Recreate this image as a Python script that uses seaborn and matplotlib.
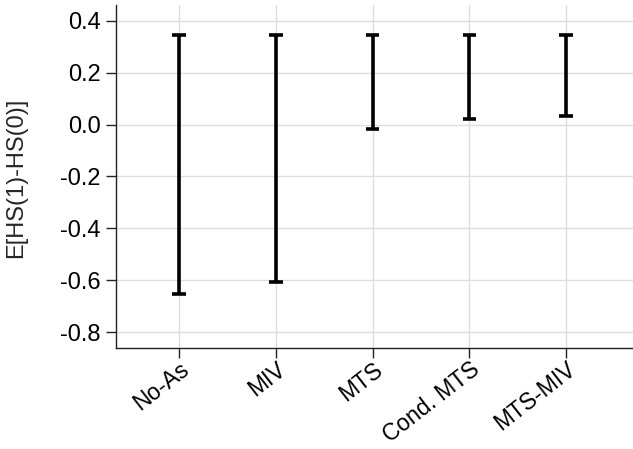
import matplotlib
matplotlib.use("Agg")
import matplotlib.pyplot as plt
import seaborn as sns
import pandas as pd

# Bounds on the average effect under each set of assumptions
methods = ["No-As", "MIV", "MTS", "Cond. MTS", "MTS-MIV"]
lower = [-0.651, -0.604, -0.016, 0.021, 0.031]
upper = [0.345, 0.343, 0.346, 0.346, 0.345]

df = pd.DataFrame({
    "method": methods * 2,
    "bound": lower + upper,
})

sns.set_theme(style="whitegrid")
plt.rcParams["font.family"] = ["Liberation Sans", "DejaVu Sans"]

fig = plt.figure(figsize=(6.33, 4.49), dpi=100)
ax = fig.add_axes([0.183, 0.226, 0.817, 0.763])

sns.pointplot(
    data=df, x="method", y="bound", order=methods,
    estimator="median", errorbar=("pi", 100),
    marker="", linestyle="none", capsize=0.14, color="black",
    err_kws={"linewidth": 2.6, "solid_capstyle": "butt"},
    ax=ax,
)

yticks = [-0.8, -0.6, -0.4, -0.2, 0.0, 0.2, 0.4]
ax.set_xlim(-0.655, 4.69)
ax.set_ylim(-0.858, 0.46)
ax.set_yticks(yticks)
ax.set_yticklabels([f"{v:.1f}" for v in yticks])
ax.set_xlabel("")
ax.set_ylabel("E[HS(1)-HS(0)]", fontsize=17)
ax.yaxis.set_label_coords(-0.172, 0.494)

ax.grid(True, color="#dedede", linewidth=1.0)
for side in ["top", "right"]:
    ax.spines[side].set_visible(False)
for side in ["left", "bottom"]:
    ax.spines[side].set_color("#222222")
    ax.spines[side].set_linewidth(1.0)

ax.tick_params(axis="both", which="major", length=7, width=1.0, color="#222222",
               labelsize=17, labelcolor="black", left=True, bottom=True)
ax.tick_params(axis="y", pad=4)
ax.tick_params(axis="x", pad=0.5, labelsize=16.5)
plt.setp(ax.get_xticklabels(), rotation=38, ha="right", rotation_mode="anchor")

fig.savefig("out.png", dpi=100)
